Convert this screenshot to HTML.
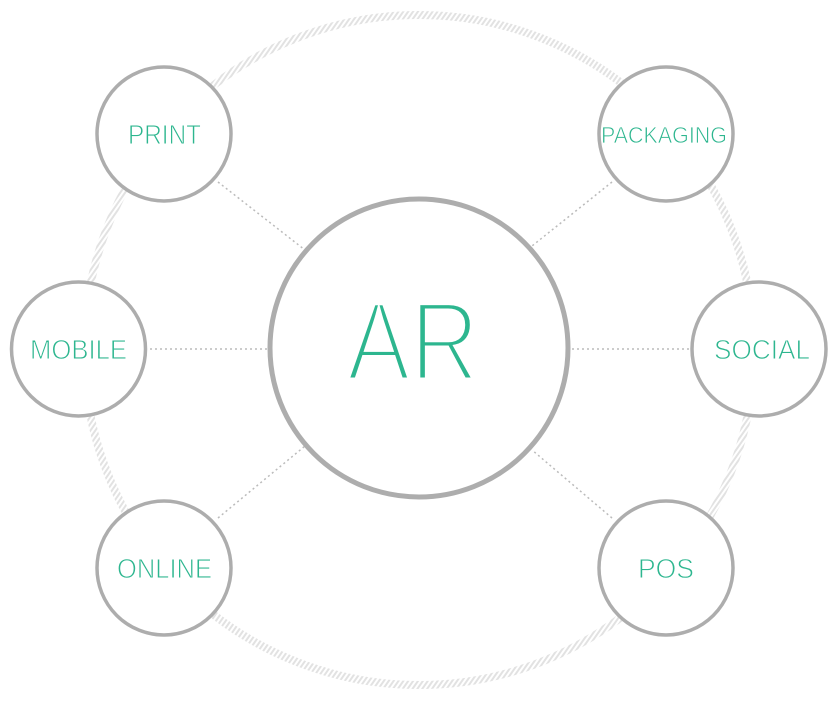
<!DOCTYPE html>
<html><head><meta charset="utf-8"><style>
html,body{margin:0;padding:0;background:#fff;}
svg{display:block;}
text{font-family:"Liberation Sans",sans-serif;fill:#2db68f;stroke:#fff;}
</style></head><body>
<svg width="838" height="704" viewBox="0 0 838 704" xmlns="http://www.w3.org/2000/svg">
<defs>
<pattern id="h" width="4" height="4" patternUnits="userSpaceOnUse" patternTransform="rotate(35)">
<rect width="2" height="4" fill="#e2e2e2"/>
</pattern>
</defs>
<circle cx="419" cy="350" r="335" fill="none" stroke="url(#h)" stroke-width="8"/>
<g stroke="#bbb" stroke-width="1.5" stroke-dasharray="2 3">
<line x1="218" y1="182" x2="305" y2="250"/>
<line x1="612" y1="182" x2="532" y2="246"/>
<line x1="150" y1="349" x2="268" y2="349"/>
<line x1="572" y1="349" x2="690" y2="349"/>
<line x1="218" y1="518" x2="305" y2="446"/>
<line x1="612" y1="518" x2="532" y2="450"/>
</g>
<circle cx="419" cy="348" r="149" fill="#fff" stroke="#adadad" stroke-width="5"/>
<g fill="#fff" stroke="#adadad" stroke-width="3.5">
<circle cx="164" cy="134" r="67"/>
<circle cx="666" cy="134" r="67"/>
<circle cx="78.5" cy="349" r="67"/>
<circle cx="759" cy="349" r="67"/>
<circle cx="164" cy="568" r="67"/>
<circle cx="666" cy="568" r="67"/>
</g>
<text x="347" y="380" font-size="112" stroke-width="5" textLength="132" lengthAdjust="spacingAndGlyphs">AR</text>
<g font-size="28" stroke-width="0.9">
<text x="128" y="144" textLength="73" lengthAdjust="spacingAndGlyphs">PRINT</text>
<text x="601" y="143" font-size="23" stroke-width="0.7" textLength="126" lengthAdjust="spacingAndGlyphs">PACKAGING</text>
<text x="30" y="359" textLength="97" lengthAdjust="spacingAndGlyphs">MOBILE</text>
<text x="714" y="359" textLength="96" lengthAdjust="spacingAndGlyphs">SOCIAL</text>
<text x="117" y="578" textLength="95" lengthAdjust="spacingAndGlyphs">ONLINE</text>
<text x="638" y="578" textLength="56" lengthAdjust="spacingAndGlyphs">POS</text>
</g>
</svg>
</body></html>
